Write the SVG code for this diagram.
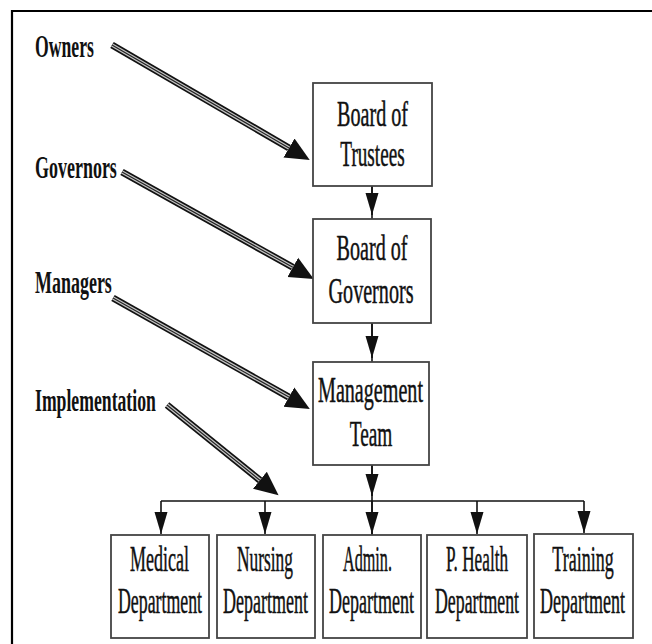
<svg xmlns="http://www.w3.org/2000/svg" width="652" height="644" viewBox="0 0 652 644">
<style>
.box{fill:#fff;stroke:#444;stroke-width:1.8}
.bt{font-family:"Liberation Serif","Times New Roman",serif;font-size:36px;fill:#111;stroke:#111;stroke-width:0.5;text-anchor:middle}
.lb{font-family:"Liberation Serif","Times New Roman",serif;font-size:32px;font-weight:bold;fill:#111}
.ln{fill:none;stroke:#111;stroke-width:1.6}
.s1{fill:none;stroke:#111;stroke-width:7}
.s2{fill:none;stroke:#c4c4c4;stroke-width:3.6}
.s3{fill:none;stroke:#222;stroke-width:1.2}
</style>
<defs>
<marker id="big" markerUnits="userSpaceOnUse" markerWidth="25" markerHeight="24" viewBox="0 0 25 24" refX="0" refY="12" orient="auto">
<path d="M0,1 L24,12 L0,23 Z" fill="#111"/>
</marker>
<marker id="sm" markerUnits="userSpaceOnUse" markerWidth="22" markerHeight="14" viewBox="0 0 22 14" refX="22" refY="7" orient="auto">
<path d="M0,0.5 L22,7 L0,13.5 Z" fill="#111"/>
</marker>
</defs>
<rect width="652" height="644" fill="#fff"/>
<path d="M12,644 V11 H652" fill="none" stroke="#000" stroke-width="2.2"/>

<g id="labels">
<text id="lbl-owners" class="lb" transform="translate(35,57) scale(0.553,1)">Owners</text>
<text id="lbl-governors" class="lb" transform="translate(35,178) scale(0.562,1)">Governors</text>
<text id="lbl-managers" class="lb" transform="translate(35,293) scale(0.562,1)">Managers</text>
<text id="lbl-impl" class="lb" transform="translate(35,411) scale(0.553,1)">Implementation</text>
</g>

<g id="connectors">
<path class="s1" d="M112,45 L289,148" marker-end="url(#big)"/>
<path class="s2" d="M112,45 L289,148"/>
<path class="s3" d="M112,45 L289,148"/>
<path class="s1" d="M122,172 L292.8,267.3" marker-end="url(#big)"/>
<path class="s2" d="M122,172 L292.8,267.3"/>
<path class="s3" d="M122,172 L292.8,267.3"/>
<path class="s1" d="M113,298 L288.9,397.1" marker-end="url(#big)"/>
<path class="s2" d="M113,298 L288.9,397.1"/>
<path class="s3" d="M113,298 L288.9,397.1"/>
<path class="s1" d="M167,405 L259.9,480.2" marker-end="url(#big)"/>
<path class="s2" d="M167,405 L259.9,480.2"/>
<path class="s3" d="M167,405 L259.9,480.2"/>
<path class="ln" d="M372,186 V219"/>
<path class="ln" d="M372,186 V215" marker-end="url(#sm)"/>
<path class="ln" d="M372,323 V362"/>
<path class="ln" d="M372,323 V358" marker-end="url(#sm)"/>
<path class="ln" d="M372,465 V535"/>
<path class="ln" d="M372,465 V496" marker-end="url(#sm)"/>
<path class="ln" d="M161,501 H584"/>
<path class="ln" d="M161,501 V534" marker-end="url(#sm)"/>
<path class="ln" d="M265,501 V534" marker-end="url(#sm)"/>
<path class="ln" d="M372,501 V534" marker-end="url(#sm)"/>
<path class="ln" d="M477,501 V534" marker-end="url(#sm)"/>
<path class="ln" d="M584,501 V533" marker-end="url(#sm)"/>
</g>

<g id="board-trustees">
<rect class="box" x="313" y="83" width="119" height="103"/>
<text class="bt" transform="translate(372.5,126) scale(0.559,1)">Board of</text>
<text class="bt" transform="translate(372.5,166) scale(0.533,1)">Trustees</text>
</g>
<g id="board-governors">
<rect class="box" x="313" y="219" width="118" height="104"/>
<text class="bt" transform="translate(372,260) scale(0.559,1)">Board of</text>
<text class="bt" transform="translate(371,303) scale(0.559,1)">Governors</text>
</g>
<g id="management-team">
<rect class="box" x="313" y="362" width="116" height="103"/>
<text class="bt" transform="translate(370.5,402) scale(0.559,1)">Management</text>
<text class="bt" transform="translate(371,446) scale(0.537,1)">Team</text>
</g>
<g id="medical">
<rect class="box" x="111" y="535" width="98" height="103"/>
<text class="bt" transform="translate(159.5,571) scale(0.5,1)">Medical</text>
<text class="bt" transform="translate(160,613) scale(0.495,1)">Department</text>
</g>
<g id="nursing">
<rect class="box" x="217" y="535" width="98" height="103"/>
<text class="bt" transform="translate(265,571) scale(0.483,1)">Nursing</text>
<text class="bt" transform="translate(265.5,613) scale(0.5,1)">Department</text>
</g>
<g id="admin">
<rect class="box" x="323" y="535" width="98" height="103"/>
<text class="bt" transform="translate(367.5,571) scale(0.45,1)">Admin.</text>
<text class="bt" transform="translate(371.5,613) scale(0.5,1)">Department</text>
</g>
<g id="phealth">
<rect class="box" x="427" y="535" width="100" height="103"/>
<text class="bt" transform="translate(477,571) scale(0.478,1)">P. Health</text>
<text class="bt" transform="translate(477,613) scale(0.495,1)">Department</text>
</g>
<g id="training">
<rect class="box" x="534" y="534" width="99" height="104"/>
<text class="bt" transform="translate(583,571) scale(0.5,1)">Training</text>
<text class="bt" transform="translate(582.5,613) scale(0.5,1)">Department</text>
</g>
</svg>
